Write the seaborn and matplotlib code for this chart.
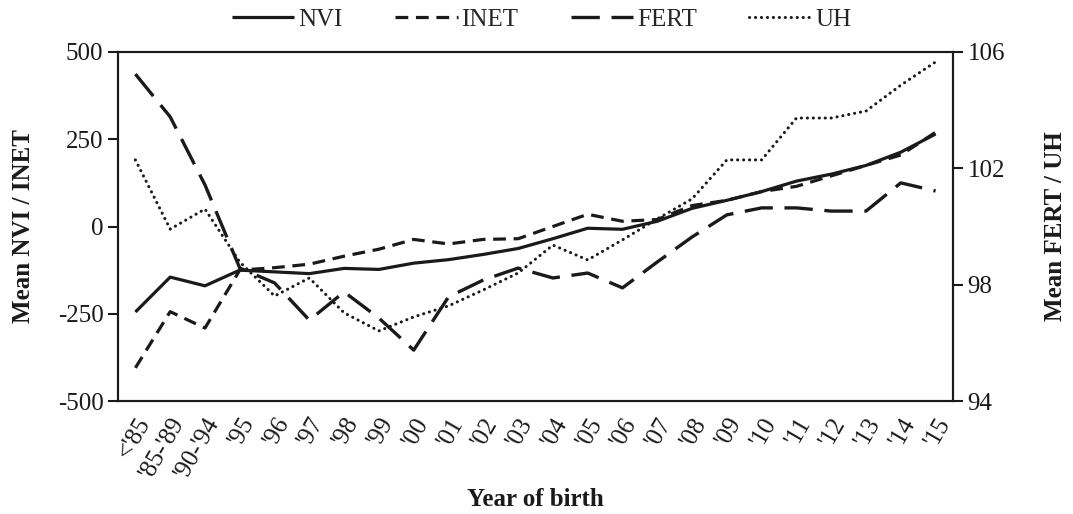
import matplotlib.pyplot as plt
import numpy as np
import pandas as pd
import seaborn as sns

# categories on the x axis
years = ["<'85", "'85-'89", "'90-'94", "'95", "'96", "'97", "'98", "'99", "'00", "'01",
         "'02", "'03", "'04", "'05", "'06", "'07", "'08", "'09", "'10", "'11",
         "'12", "'13", "'14", "'15"]

# left axis series
nvi = [-245, -145, -170, -125, -130, -135, -120, -123, -105, -95, -80, -63,
       -35, -5, -8, 15, 52, 75, 100, 130, 150, 175, 213, 265]
inet = [-405, -244, -291, -125, -118, -108, -85, -65, -37, -50, -37, -35,
        0, 35, 15, 20, 60, 75, 100, 115, 145, 175, 205, 270]

# right axis series
fert = [105.24, 103.77, 101.43, 98.57, 98.06, 96.78, 97.75, 96.85, 95.75, 97.58,
        98.16, 98.57, 98.23, 98.4, 97.89, 98.78, 99.64, 100.4, 100.64, 100.64,
        100.53, 100.53, 101.5, 101.22]
uh = [102.29, 99.91, 100.6, 98.78, 97.61, 98.23, 97.03, 96.41, 96.89, 97.27,
      97.82, 98.4, 99.36, 98.85, 99.54, 100.26, 100.95, 102.29, 102.29, 103.73,
      103.73, 103.97, 104.86, 105.66]

left_ticks = [-500, -250, 0, 250, 500]
right_ticks = [94, 98, 102, 106]

sns.set_style("white")
plt.rcParams['font.family'] = ['Liberation Serif', 'DejaVu Serif']

df = pd.DataFrame({'pos': np.arange(len(years)), 'NVI': nvi, 'INET': inet,
                   'FERT': fert, 'UH': uh})

ink = '#1a1a1a'
fs = 18
fig, ax = plt.subplots(figsize=(10.73, 5.14), dpi=100)
fig.subplots_adjust(left=118 / 1073, right=953 / 1073, top=1 - 52 / 514, bottom=1 - 401 / 514)
ax2 = ax.twinx()

sns.lineplot(data=df, x='pos', y='NVI', ax=ax, color=ink, lw=2.3, label='NVI',
             solid_capstyle='butt')
sns.lineplot(data=df, x='pos', y='INET', ax=ax, color=ink, lw=2.3, label='INET',
             linestyle=(0, (4, 2.4)))
sns.lineplot(data=df, x='pos', y='FERT', ax=ax2, color=ink, lw=2.4, label='FERT',
             linestyle=(0, (8.5, 3.5)))
sns.lineplot(data=df, x='pos', y='UH', ax=ax2, color=ink, lw=2.2, label='UH',
             linestyle=(0, (0.05, 1.9)), dash_capstyle='round')

ax.set_xlim(-0.5, len(years) - 0.5)
ax.set_ylim(-500, 500)
ax2.set_ylim(94, 106)
ax.set_yticks(left_ticks)
ax.set_yticklabels([str(t) for t in left_ticks])
ax2.set_yticks(right_ticks)

ax.set_xticks(np.arange(len(years)))
ax.set_xticklabels(years, rotation=60, ha='right', rotation_mode='anchor')
ax.set_xticks(np.arange(len(years) + 1) - 0.5, minor=True)
ax.tick_params(axis='x', which='major', length=0, pad=9, labelsize=fs, colors=ink)
ax.tick_params(axis='x', which='minor', length=7, width=1.5, direction='out', color=ink)
ax.tick_params(axis='y', length=7, width=1.5, direction='out', labelsize=fs,
               colors=ink, left=True)
ax2.tick_params(axis='y', length=7, width=1.5, direction='out', labelsize=fs,
                colors=ink, right=True)

for a in (ax, ax2):
    for s in a.spines.values():
        s.set_visible(True)
        s.set_color(ink)
        s.set_linewidth(1.5)
    if a.get_legend() is not None:
        a.get_legend().remove()

ax.set_xlabel('Year of birth', fontsize=fs, fontweight='bold', color=ink, labelpad=4)
ax.set_ylabel('Mean NVI / INET', fontsize=fs, fontweight='bold', color=ink, labelpad=16)
ax2.set_ylabel('Mean FERT / UH', fontsize=fs, fontweight='bold', color=ink, labelpad=28)

h1, l1 = ax.get_legend_handles_labels()
h2, l2 = ax2.get_legend_handles_labels()
fig.legend(h1 + h2, l1 + l2, loc='upper center', bbox_to_anchor=(0.505, 1.027), ncol=4,
           frameon=False, fontsize=fs, handlelength=2.5, handletextpad=0.15,
           columnspacing=2.1)

plt.savefig('out.png', dpi=100)
